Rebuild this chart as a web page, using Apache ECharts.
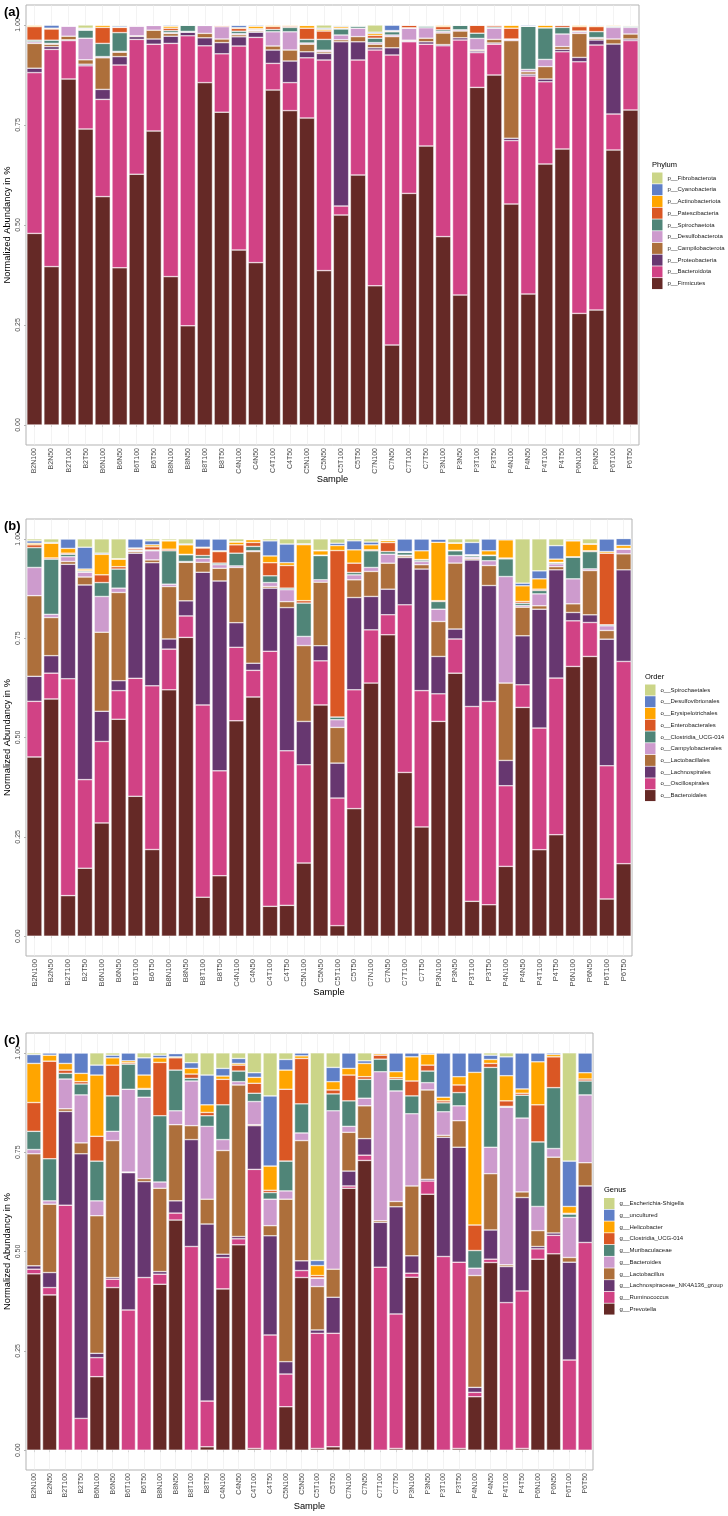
<!DOCTYPE html>
<html>
<head>
<meta charset="utf-8">
<title>Normalized abundance by sample</title>
<script src="https://cdn.jsdelivr.net/npm/echarts@6.0.0/dist/echarts.min.js"></script>
<style>
  html, body { margin: 0; padding: 0; background: #fff; }
  #chart { width: 728px; height: 1516px; }
</style>
</head>
<body>
<div id="chart"></div>
<script>
const samples = ["B2N100","B2N50","B2T100","B2T50","B6N100","B6N50","B6T100","B6T50","B8N100","B8N50","B8T100","B8T50","C4N100","C4N50","C4T100","C4T50","C5N100","C5N50","C5T100","C5T50","C7N100","C7N50","C7T100","C7T50","P3N100","P3N50","P3T100","P3T50","P4N100","P4N50","P4T100","P4T50","P6N100","P6N50","P6T100","P6T50"];
const yTicks = [0, 0.25, 0.5, 0.75, 1];
// stack colours, bottom -> top
const palette = ["#652926","#D14285","#673770","#AD6F3B","#CD9BCD","#508578","#DA5724","#FFA500","#5F7FC7","#CBD588"];

// ---- (a) Phylum, bottom -> top
const phylumNames = ["p__Firmicutes","p__Bacteroidota","p__Proteobacteria","p__Campilobacterota","p__Desulfobacterota","p__Spirochaetota","p__Patescibacteria","p__Actinobacteriota","p__Cyanobacteria","p__Fibrobacterota"];
const firmicutes = [.479,.396,.865,.740,.571,.393,.627,.735,.371,.248,.856,.782,.4375,.406,.8375,.786,.7675,.386,.525,.625,.348,.200,.579,.6975,.471,.325,.844,.875,.5525,.3275,.6525,.690,.279,.2875,.6875,.7875];
const bacteroidota = [.402,.543,.096,.158,.243,.507,.337,.217,.583,.725,.092,.146,.51,.563,.0665,.070,.1505,.5265,.0225,.2875,.5895,.725,.379,.2545,.477,.6375,.087,.077,.1585,.545,.2055,.243,.629,.6625,.090,.1735];
const proteobacteria = [.011,.007,.002,.004,.025,.021,.007,.013,.018,.009,.020,.028,.023,.013,.0335,.054,.015,.0165,.4105,.0455,.0055,.018,.002,.006,.003,.0055,.004,.003,.006,.0045,.007,.006,.011,.0125,.175,.004];
const campilobacterota = [.062,.006,.009,.011,.079,.011,.002,.022,.007,.001,.011,.009,.005,.003,.010,.0275,.019,.004,.005,.013,.009,.028,.002,.009,.029,.017,.0025,.009,.244,.006,.031,.007,.060,.004,.0125,.0125];
const desulfobacterota = [.004,.002,.025,.054,.003,.002,.024,.012,.002,.001,.020,.031,.003,.002,.0355,.0455,.003,.004,.012,.021,.004,.004,.030,.026,.004,.003,.029,.028,.003,.006,.018,.0315,.004,.002,.029,.0165];
const spirochaetota = [.004,.008,.001,.020,.033,.047,.001,0,.005,.016,.001,0,.006,.002,.006,.011,.009,.027,.015,.005,.011,.008,.001,.004,.004,.012,.013,.003,.001,.108,.079,.0165,.002,.015,.003,.003];
const patescibacteria = [.034,.028,.001,.002,.040,.013,.002,0,.006,0,0,.003,.007,.002,.007,.003,.028,.021,.002,.001,.007,.002,.007,.002,.008,0,.0205,.005,.027,0,0,.006,.011,.0125,0,.001];
const actinobacteriota = [.004,.002,.001,.001,.006,.001,0,.001,.005,0,0,.001,.002,.006,.004,.003,.007,.004,.004,.002,.005,.001,0,0,.004,0,0,0,.008,0,.007,0,.004,.002,.003,.002];
const cyanobacteria = [0,.008,0,.002,0,.003,0,0,.003,0,0,0,.006,.003,0,0,.001,.003,.002,0,.003,.014,0,.001,0,0,0,0,0,.003,0,0,0,.002,0,0];
const fibrobacterota = [0,0,0,.008,0,.002,0,0,0,0,0,0,0,0,0,0,0,.008,.002,0,.018,0,0,0,0,0,0,0,0,0,0,0,0,0,0,0];

// ---- (b) Order, bottom -> top
const orderNames = ["o__Bacteroidales","o__Oscillospirales","o__Lachnospirales","o__Lactobacillales","o__Campylobacterales","o__Clostridia_UCG-014","o__Enterobacterales","o__Erysipelotrichales","o__Desulfovibrionales","o__Spirochaetales"];
const bacteroidales = [.451,.597,.102,.171,.285,.546,.352,.218,.620,.752,.098,.152,.542,.602,.075,.0775,.184,.582,.0264,.321,.637,.7585,.412,.275,.5405,.662,.0876,.079,.1756,.5757,.2176,.2553,.6788,.704,.0935,.1824];
const oscillospirales = [.140,.065,.546,.223,.205,.072,.297,.412,.1025,.054,.484,.264,.185,.067,.642,.389,.2474,.111,.3212,.299,.134,.0505,.422,.343,.0695,.086,.4904,.5118,.203,.057,.3061,.3942,.1149,.0855,.3354,.509];
const lachnospirales = [.063,.044,.288,.490,.076,.025,.315,.310,.0255,.038,.334,.478,.062,.018,.159,.3605,.109,.038,.088,.2324,.084,.0644,.119,.306,.094,.025,.369,.2918,.0637,.1233,.2993,.2725,.021,.0193,.3187,.2306];
const lactobacillales = [.203,.096,.007,.020,.199,.222,.004,.007,.132,.097,.025,.032,.139,.281,.004,.015,.191,.160,.0898,.0445,.063,.0654,.004,.011,.088,.166,.003,.0504,.1946,.072,.0085,.008,.0218,.1115,.0218,.0403];
const campylobacterales = [.071,.008,.012,.012,.090,.011,.002,.023,.006,.002,.010,.009,.004,.002,.010,.030,.023,.006,.0193,.0125,.010,.0226,.002,.008,.031,.019,.004,.012,.2683,.0043,.0301,.007,.0629,.0042,.0117,.0117];
const clostridiaOrder = [.050,.139,.006,.003,.035,.048,.002,.002,.084,.017,.007,.004,.032,.011,.017,.004,.084,.061,.0067,.006,.042,.0066,.007,.004,.0194,.012,.004,.013,.0445,.0057,.0084,.003,.0545,.0435,.0026,.001];
const enterobacterales = [.007,.003,.003,.001,.0195,.006,.004,.008,.004,.001,.019,.029,.021,.010,.033,.057,.006,.001,.4192,.0235,.0023,.0228,.001,.001,.002,.001,.001,.001,.002,.0044,.0034,.001,.001,.002,.1803,.001];
const erysipelotrichales = [.004,.037,.012,.004,.0515,.019,.001,.005,.021,.024,.002,.002,.007,.007,.017,.007,.141,.011,.0126,.0335,.0127,.005,.001,.022,.147,.018,.001,.011,.0458,.0394,.026,.008,.040,.0166,.004,.0074];
const desulfovibrionales = [.006,.002,.024,.055,.003,.001,.023,.010,.001,.002,.021,.030,.001,.001,.038,.047,.002,.001,.0058,.0227,.007,.001,.032,.030,.008,.001,.031,.030,.0025,.0067,.0201,.034,.002,.001,.032,.0176];
const spirochaetales = [.005,.009,0,.021,.036,.050,0,.005,.004,.013,0,0,.007,.001,.005,.013,.012,.029,.011,.005,.008,.003,0,0,0,.010,.009,0,0,.1115,.0805,.017,.003,.0124,0,0];

// ---- (c) Genus, bottom -> top
const genusNames = ["g__Prevotella","g__Ruminococcus","g__Lachnospiraceae_NK4A136_group","g__Lactobacillus","g__Bacteroides","g__Muribaculaceae","g__Clostridia_UCG-014","g__Helicobacter","g__uncultured","g__Escherichia-Shigella"];
const prevotella = [.4437,.3908,0,0,.1849,.4092,0,0,.4176,.5792,0,.0084,.4059,.5168,.0042,0,.1092,.4345,.0042,.0084,.6592,.7292,0,.0042,.4353,.6442,0,.0042,.1345,.4723,0,.0042,.4807,.4941,0,0];
const ruminococcus = [.0118,.0184,.6167,.0798,.0479,.0211,.3529,.4345,.0253,.0175,.5126,.1151,.079,.0151,.7025,.2899,.0824,.0176,.2899,.2857,.0058,.0133,.4605,.3387,.0101,.0333,.4874,.4689,.0109,.0084,.3714,.3966,.026,.0466,.2269,.5227];
const lachnoNK4A136 = [.0084,.0379,.2358,.6661,.0109,.0042,.3455,.2414,.0067,.0308,.2691,.4457,.0084,.0059,.11,.2496,.0311,.0244,.0084,.0908,.0375,.0417,.1129,.2696,.0437,.0042,.3001,.2894,.0126,.0735,.0908,.2351,.0059,.006,.2462,.1423];
const lactobacillus = [.282,.1721,.0067,.0275,.3463,.3447,.0016,.0075,.2096,.1917,.035,.0625,.2609,.3814,.0025,.0255,.409,.3027,.1093,.0706,.0975,.0825,.0041,.0134,.1759,.225,.005,.0667,.2815,.1417,.0042,.0141,.0399,.1908,.0118,.0584];
const bacteroides = [.0108,.0083,.075,.1208,.0375,.0233,.2084,.205,.0158,.035,.1125,.1833,.0275,.0083,.0583,.0667,.0208,.0192,.021,.3987,.015,.0192,.375,.2783,.1817,.0183,.0592,.0375,.0185,.0666,.397,.1859,.0609,.0217,.101,.1708];
const muribaculaceae = [.0458,.1059,.0142,.0275,.1,.0892,.0633,.02,.1667,.1025,.0067,.0267,.0875,.0267,.0209,.0167,.075,.0733,.001,.0425,.0642,.0475,.0317,.0292,.045,.0292,.0225,.0333,.0445,.2009,.002,.0575,.1625,.1533,.0083,.035];
const clostridiaGenus = [.0725,.2458,.0083,.0058,.0625,.0775,.0033,.002,.1342,.0308,.0108,.0083,.0642,.015,.025,.0058,.1809,.1142,.0057,.01,.065,.0066,.01,.0041,.0375,.015,.005,.0192,.0642,.01,.0138,.005,.0933,.0775,.002,.005];
const helicobacter = [.0984,.015,.0167,.0209,.1542,.0183,.005,.0338,.0116,.0025,.0142,.0192,.0083,.0042,.015,.0608,.0483,.0066,.0252,.0208,.0167,.0334,.0038,.015,.0608,.0275,.0092,.0208,.3842,.01,.0633,.0108,.1083,.0059,.0172,.0158];
const uncultured = [.0225,.0058,.0266,.0516,.025,.0067,.02,.0433,.0067,.0083,.0142,.075,.0192,.0125,.0116,.1767,.0267,.0075,.0126,.0359,.0391,.0066,.002,.0475,.01,.0033,.1116,.06,.0491,.0108,.0475,.0908,.0225,.0041,.1141,.05];
const escherichia = [.0041,0,0,0,.0308,.0058,0,.0125,.0058,0,.0249,.0558,.0391,.0141,.05,.1083,.0166,0,.5227,.0366,0,.02,0,0,0,0,0,0,0,.0058,.01,0,0,0,.2725,0];

const panels = [
  { tag: "(a)", title: "Phylum", names: phylumNames,
    values: [firmicutes, bacteroidota, proteobacteria, campilobacterota, desulfobacterota, spirochaetota, patescibacteria, actinobacteriota, cyanobacteria, fibrobacterota],
    grid: { left: 26, top: 5, width: 613, height: 440 }, legendLeft: 652, legendTop: 172.5, tickSize: 7, nameGap: 30 },
  { tag: "(b)", title: "Order", names: orderNames,
    values: [bacteroidales, oscillospirales, lachnospirales, lactobacillales, campylobacterales, clostridiaOrder, enterobacterales, erysipelotrichales, desulfovibrionales, spirochaetales],
    grid: { left: 26, top: 519, width: 606, height: 437 }, legendLeft: 645, legendTop: 684.5, tickSize: 7.6, nameGap: 32 },
  { tag: "(c)", title: "Genus", names: genusNames,
    values: [prevotella, ruminococcus, lachnoNK4A136, lactobacillus, bacteroides, muribaculaceae, clostridiaGenus, helicobacter, uncultured, escherichia],
    grid: { left: 26, top: 1033, width: 567, height: 437 }, legendLeft: 604, legendTop: 1198, tickSize: 7, nameGap: 32 }
];

const FONT = "Liberation Sans, Arial, sans-serif";

// faint vertical grid lines at sample centres, only where no bar covers them
function gridMarks() {
  let data = [];
  samples.forEach(s => {
    data.push([{ coord: [s, -0.05] }, { coord: [s, 0] }]);
    data.push([{ coord: [s, 1] }, { coord: [s, 1.05] }]);
  });
  return data;
}

let grids = [], xAxes = [], yAxes = [], series = [], legends = [], titles = [];

panels.forEach((p, gi) => {
  grids.push(Object.assign({
    show: true, borderColor: "#b3b3b3", borderWidth: 1, backgroundColor: "transparent",
    containLabel: false, outerBoundsMode: "none"
  }, p.grid));

  xAxes.push({
    type: "category", gridIndex: gi, data: samples,
    name: "Sample", nameLocation: "middle", nameGap: p.nameGap, nameMoveOverlap: false,
    nameTextStyle: { fontSize: 9.3, color: "#000", fontFamily: FONT },
    axisLine: { show: false },
    axisTick: { show: true, alignWithLabel: true, length: 2, lineStyle: { color: "#b3b3b3" } },
    axisLabel: { rotate: 90, interval: 0, fontSize: p.tickSize, color: "#4d4d4d", margin: 3, fontFamily: FONT },
    splitLine: { show: false }
  });

  yAxes.push({
    type: "value", gridIndex: gi, min: -0.05, max: 1.05,
    name: "Normalized Abundancy in %", nameLocation: "middle", nameGap: 14, nameRotate: 90,
    nameMoveOverlap: false,
    nameTextStyle: { fontSize: 9.3, color: "#000", fontFamily: FONT },
    axisLine: { show: false },
    axisTick: { show: true, length: 2, lineStyle: { color: "#b3b3b3" }, customValues: yTicks },
    axisLabel: { rotate: 90, fontSize: 7, color: "#4d4d4d", margin: 4, fontFamily: FONT,
      customValues: yTicks, formatter: v => v.toFixed(2) },
    splitLine: { show: false }
  });

  p.names.forEach((name, k) => {
    let s = {
      type: "bar", name: name, xAxisIndex: gi, yAxisIndex: gi, stack: "panel" + gi,
      data: p.values[k], barCategoryGap: "10%",
      itemStyle: { color: palette[k], borderColor: "#fff", borderWidth: 0.5 },
      emphasis: { disabled: true }
    };
    if (k === 0) {
      s.markLine = { silent: true, symbol: "none", label: { show: false },
        lineStyle: { color: "#ebebeb", width: 0.6, type: "solid" }, data: gridMarks() };
    }
    series.push(s);
  });

  legends.push({
    orient: "vertical", left: p.legendLeft, top: p.legendTop, padding: 0,
    data: p.names.slice().reverse(), icon: "rect",
    itemWidth: 10.5, itemHeight: 11, itemGap: 0.73,
    itemStyle: { borderWidth: 0 },
    textStyle: { fontSize: 6, color: "#1a1a1a", fontFamily: FONT },
    selectedMode: false
  });

  titles.push({ text: p.tag, left: 4, top: p.grid.top + 0.5, padding: 0,
    textStyle: { fontSize: 13, fontWeight: "bold", color: "#000", fontFamily: FONT } });
  titles.push({ text: p.title, left: p.legendLeft, top: p.legendTop - 12, padding: 0,
    textStyle: { fontSize: 7.5, fontWeight: "normal", color: "#000", fontFamily: FONT } });
});

const chart = echarts.init(document.getElementById("chart"), null, { renderer: "canvas" });
chart.setOption({
  animation: false,
  textStyle: { fontFamily: FONT },
  title: titles,
  grid: grids,
  xAxis: xAxes,
  yAxis: yAxes,
  legend: legends,
  series: series
});
</script>
</body>
</html>
